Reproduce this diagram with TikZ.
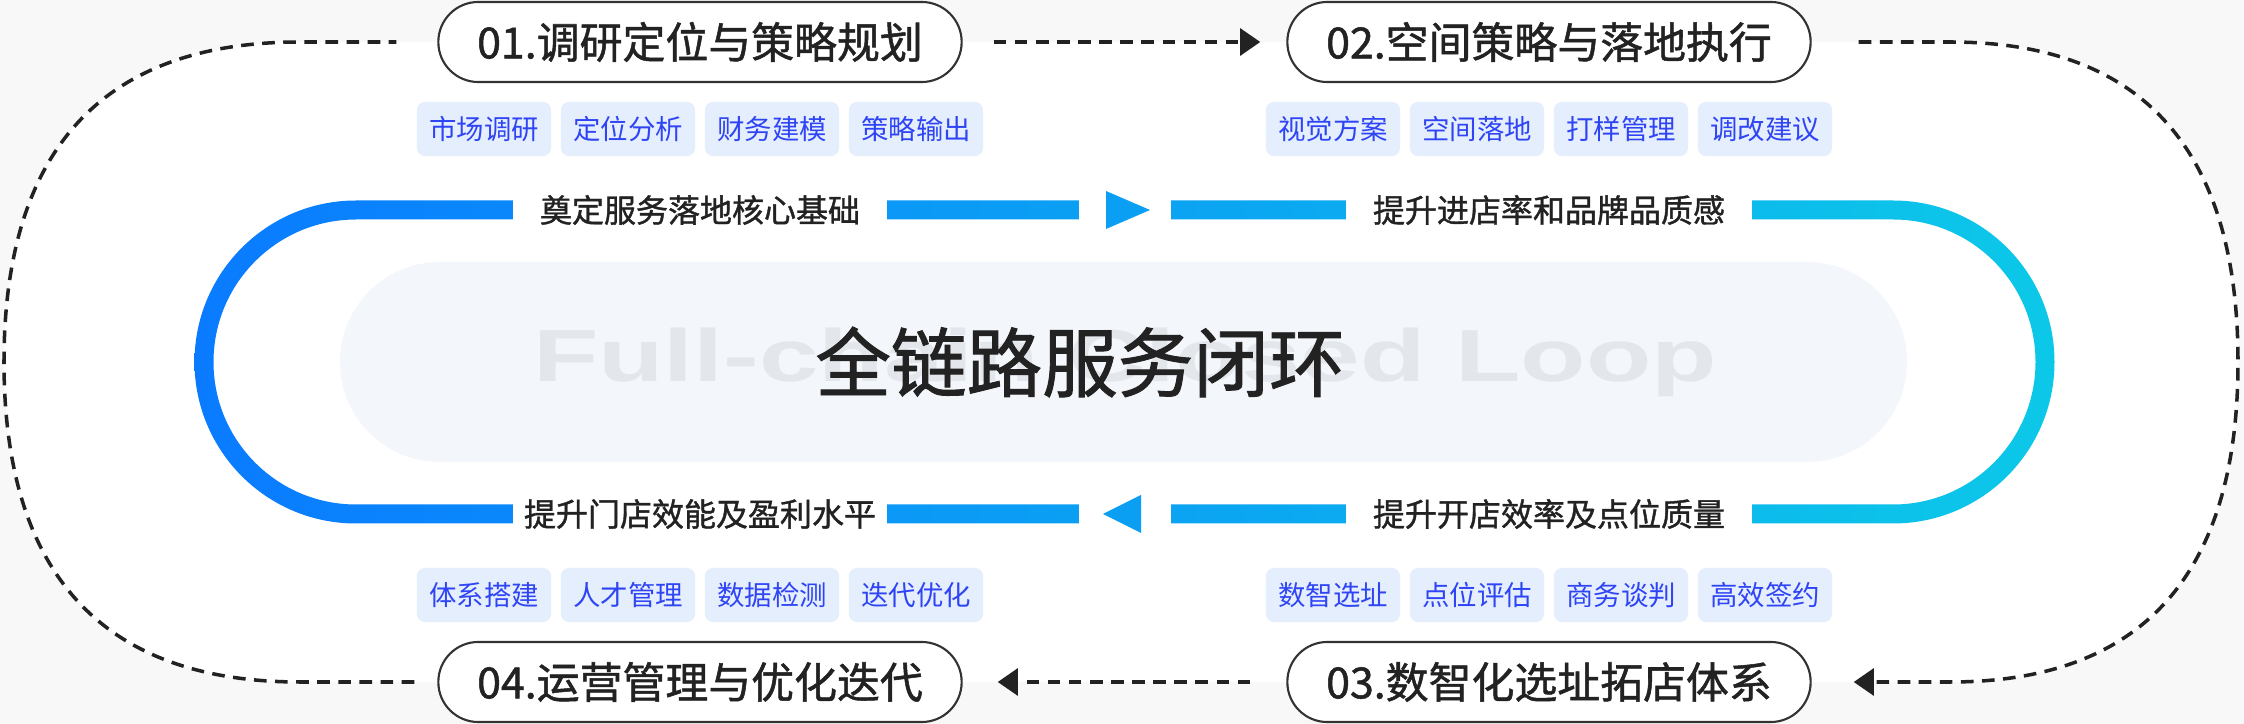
\documentclass[tikz,border=0pt]{standalone}
\usepackage{fontspec}
\setmainfont{Noto Sans CJK SC}
\newfontfamily\medfont[FakeBold=1.2]{Noto Sans CJK SC}
\newfontfamily\wmfont{Liberation Sans}
\usepackage{tikz}
\usetikzlibrary{arrows.meta}
\definecolor{pagegray}{HTML}{F8F8F8}
\definecolor{stageline}{HTML}{333333}
\definecolor{chipfill}{HTML}{E4EEFD}
\definecolor{chiptext}{HTML}{2F45F5}
\definecolor{trackleft}{HTML}{0A7BFF}
\definecolor{trackright}{HTML}{0CC8E8}
\definecolor{trackmid}{HTML}{0A9FF2}
\definecolor{corefill}{HTML}{F3F6FA}
\definecolor{wmgray}{HTML}{E3E6EA}
\definecolor{labeltext}{HTML}{222222}
\pgfdeclarelayer{bglayer}
\pgfdeclarelayer{edgelayer}
\pgfdeclarelayer{nodelayer}
\pgfsetlayers{bglayer,edgelayer,main,nodelayer}
\tikzstyle{stage}=[rectangle,rounded corners=0.399cm,draw=stageline,fill=white,line width=0.6pt,minimum width=5.23cm,minimum height=0.8cm,font=\fontsize{12.2}{14}\selectfont\medfont,text=labeltext]
\tikzstyle{chip}=[rectangle,rounded corners=0.08cm,fill=chipfill,text=chiptext,minimum width=1.34cm,minimum height=0.54cm,inner sep=0pt,font=\fontsize{7.8}{9}\selectfont]
\tikzstyle{tracklabel}=[rectangle,fill=white,text=labeltext,minimum height=0.4cm,inner sep=0pt,font=\fontsize{9.1}{11}\selectfont\medfont]
\tikzstyle{gap}=[rectangle,fill=white,minimum width=0.91cm,minimum height=0.4cm,inner sep=0pt]
\tikzstyle{loopline}=[draw=labeltext,line width=1pt,dash pattern=on 3.6pt off 2.4pt]
\tikzstyle{looparrow}=[loopline,-{Triangle[length=5.7pt,width=7.6pt]}]
\tikzstyle{none}=[inner sep=0pt]

\begin{document}
\begin{tikzpicture}[x=0.01cm,y=0.01cm]
	\useasboundingbox (0,0) rectangle (2244,724);
	\begin{pgfonlayer}{bglayer}
		\fill[pagegray] (0,0) rectangle (2244,724);
		% white inside the dashed loop
		\fill[white] (300,682) .. controls (90,682) and (4,560) .. (4,362) .. controls (4,164) and (90,42) .. (300,42)
			-- (1950,42) .. controls (2155,42) and (2238,164) .. (2238,362) .. controls (2238,560) and (2155,682) .. (1950,682) -- cycle;
	\end{pgfonlayer}
	\begin{pgfonlayer}{nodelayer}
		\node [style=stage] (s1) at (700,682) {01.调研定位与策略规划};
		\node [style=stage] (s2) at (1549,682) {02.空间策略与落地执行};
		\node [style=stage] (s3) at (1549,42) {03.数智化选址拓店体系};
		\node [style=stage] (s4) at (700,42) {04.运营管理与优化迭代};

		\node [style=chip] (c11) at (484,595) {市场调研};
		\node [style=chip] (c12) at (628,595) {定位分析};
		\node [style=chip] (c13) at (772,595) {财务建模};
		\node [style=chip] (c14) at (916,595) {策略输出};
		\node [style=chip] (c21) at (1333,595) {视觉方案};
		\node [style=chip] (c22) at (1477,595) {空间落地};
		\node [style=chip] (c23) at (1621,595) {打样管理};
		\node [style=chip] (c24) at (1765,595) {调改建议};
		\node [style=chip] (c31) at (1333,129) {数智选址};
		\node [style=chip] (c32) at (1477,129) {点位评估};
		\node [style=chip] (c33) at (1621,129) {商务谈判};
		\node [style=chip] (c34) at (1765,129) {高效签约};
		\node [style=chip] (c41) at (484,129) {体系搭建};
		\node [style=chip] (c42) at (628,129) {人才管理};
		\node [style=chip] (c43) at (772,129) {数据检测};
		\node [style=chip] (c44) at (916,129) {迭代优化};

		\node [style=tracklabel,minimum width=3.73cm] (t1) at (700,514) {奠定服务落地核心基础};
		\node [style=tracklabel,minimum width=4.05cm] (t2) at (1549,514) {提升进店率和品牌品质感};
		\node [style=tracklabel,minimum width=4.05cm] (t3) at (1549,210) {提升开店效率及点位质量};
		\node [style=tracklabel,minimum width=3.73cm] (t4) at (700,210) {提升门店效能及盈利水平};
		\node [style=gap] (g1) at (1125,514) {};
		\node [style=gap] (g2) at (1125,210) {};
		\fill[trackmid] (1106,533) -- (1106,495) -- (1150,514) -- cycle;
		\fill[trackmid] (1141,229) -- (1141,191) -- (1103,210) -- cycle;

		\node [style=none,text=labeltext] (core) at (1080,362) {\fontsize{21.5}{24}\selectfont\medfont 全链路服务闭环};
	\end{pgfonlayer}
	% centre panel and ring
	\fill[corefill, rounded corners=0.999cm] (340,262) rectangle (1907,462);
	\node [style=none,text=wmgray] (wm) at (1125,362) {\scalebox{1.45}[1]{\wmfont\fontsize{21}{24}\selectfont\bfseries Full-chain Closed Loop}};
	\shade[left color=trackleft,right color=trackright,even odd rule]
		[rounded corners=1.614cm] (194.5,200.5) rectangle (2054.5,523.5)
		[rounded corners=1.424cm] (213.5,219.5) rectangle (2035.5,504.5);
	\begin{pgfonlayer}{edgelayer}
		\draw [style=looparrow] ([xshift=0.31cm]s1.east) to ([xshift=-0.26cm]s2.west);
		\draw [style=looparrow] ([xshift=-0.36cm]s3.west) to ([xshift=0.35cm]s4.east);
		\draw [style=looparrow] ([xshift=0.47cm]s2.east) -- (1950,682) .. controls (2155,682) and (2238,560) .. (2238,362)
			.. controls (2238,164) and (2155,42) .. (1950,42) -- ([xshift=0.42cm]s3.east);
		\draw [style=loopline] ([xshift=-0.23cm]s4.west) -- (300,42) .. controls (90,42) and (4,164) .. (4,362)
			.. controls (4,560) and (90,682) .. (300,682) -- ([xshift=-0.41cm]s1.west);
	\end{pgfonlayer}
\end{tikzpicture}
\end{document}
